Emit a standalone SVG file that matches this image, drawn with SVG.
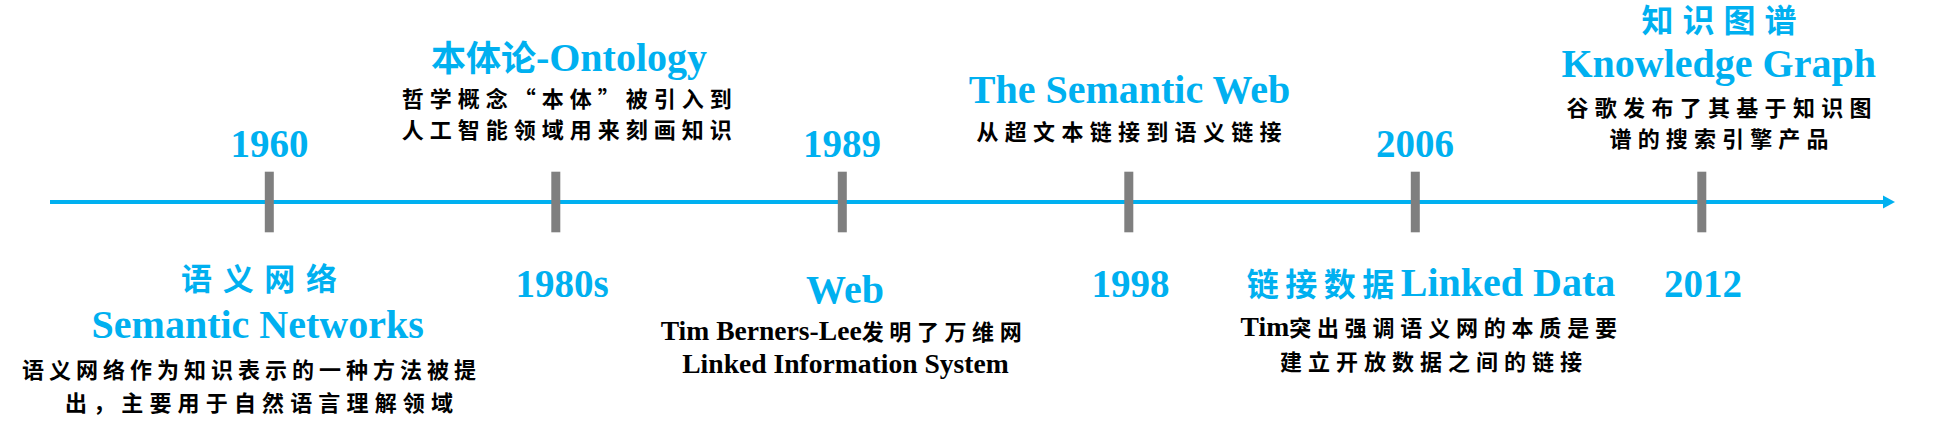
<svg xmlns="http://www.w3.org/2000/svg" width="1960" height="423" viewBox="0 0 1960 423">
  <style>
    .en { font-family: "Liberation Serif", "Times New Roman", "Noto Sans CJK SC", serif; font-weight: bold; }
    .cn { font-family: "Noto Sans CJK SC", sans-serif; font-weight: bold; }
    .blue { fill: #00B0F0; }
    .black { fill: #000000; }
    .year { font-size: 39px; text-anchor: middle; }
    .title { font-size: 40px; text-anchor: middle; }
    .desc { font-size: 22px; text-anchor: middle; }
    .endesc { font-size: 27.6px; text-anchor: middle; }
    .tick { fill: #7F7F7F; }
  </style>
  <rect width="1960" height="423" fill="#FFFFFF"/>

  <g id="connectors">
    <line x1="50" y1="202" x2="1884" y2="202" stroke="#00B0F0" stroke-width="4"/>
    <polygon points="1883,195.5 1895,202 1883,208.5" fill="#00B0F0"/>
  </g>

  <g id="node-1960">
    <rect class="tick" x="264.8" y="171.7" width="9" height="60.6"/>
    <text class="en blue year" x="269.5" y="157">1960</text>
    <text class="cn blue" x="259" y="290" font-size="31" text-anchor="middle" textLength="156" lengthAdjust="spacing">语义网络</text>
    <text class="en blue title" x="257.7" y="338">Semantic Networks</text>
    <text class="cn black desc" x="249" y="377.5" textLength="454" lengthAdjust="spacing">语义网络作为知识表示的一种方法被提</text>
    <text class="cn black desc" x="259" y="410.5" textLength="388" lengthAdjust="spacing">出，主要用于自然语言理解领域</text>
  </g>

  <g id="node-1980s">
    <rect class="tick" x="551.3" y="171.7" width="9" height="60.6"/>
    <text class="en blue year" x="562" y="297">1980s</text>
    <text class="en blue title" x="569" y="71" font-size="42"><tspan class="cn" font-size="35">本体论</tspan>-Ontology</text>
    <text class="cn black desc" x="566.7" y="106.7" textLength="330" lengthAdjust="spacing">哲学概念“本体”被引入到</text>
    <text class="cn black desc" x="566.7" y="138.4" textLength="330" lengthAdjust="spacing">人工智能领域用来刻画知识</text>
  </g>

  <g id="node-1989">
    <rect class="tick" x="837.8" y="171.7" width="9" height="60.6"/>
    <text class="en blue year" x="842" y="157">1989</text>
    <text class="en blue title" x="845" y="303" font-size="38">Web</text>
    <text class="en black endesc" x="844" y="340">Tim Berners-Lee<tspan class="cn" font-size="22" letter-spacing="5.6">发明了万维网</tspan></text>
    <text class="en black endesc" x="845.5" y="373">Linked Information System</text>
  </g>

  <g id="node-1998">
    <rect class="tick" x="1124.3" y="171.7" width="9" height="60.6"/>
    <text class="en blue year" x="1130.6" y="297">1998</text>
    <text class="en blue title" x="1129.5" y="103.3">The Semantic Web</text>
    <text class="cn black desc" x="1129" y="140" textLength="305" lengthAdjust="spacing">从超文本链接到语义链接</text>
  </g>

  <g id="node-2006">
    <rect class="tick" x="1410.8" y="171.7" width="9" height="60.6"/>
    <text class="en blue year" x="1415" y="157">2006</text>
    <text class="en blue title" x="1431" y="296"><tspan class="cn" font-size="32" letter-spacing="6.5">链接数据</tspan>Linked Data</text>
    <text class="en black endesc" x="1431.7" y="336">Tim<tspan class="cn" font-size="22" letter-spacing="5.8">突出强调语义网的本质是要</tspan></text>
    <text class="cn black desc" x="1431" y="370" textLength="302" lengthAdjust="spacing">建立开放数据之间的链接</text>
  </g>

  <g id="node-2012">
    <rect class="tick" x="1697.3" y="171.7" width="9" height="60.6"/>
    <text class="en blue year" x="1703" y="297">2012</text>
    <text class="cn blue" x="1719" y="32" font-size="32" text-anchor="middle" textLength="155" lengthAdjust="spacing">知识图谱</text>
    <text class="en blue title" x="1718.7" y="77">Knowledge Graph</text>
    <text class="cn black desc" x="1719" y="115.5" textLength="305" lengthAdjust="spacing">谷歌发布了其基于知识图</text>
    <text class="cn black desc" x="1719" y="147" textLength="219" lengthAdjust="spacing">谱的搜索引擎产品</text>
  </g>
</svg>
